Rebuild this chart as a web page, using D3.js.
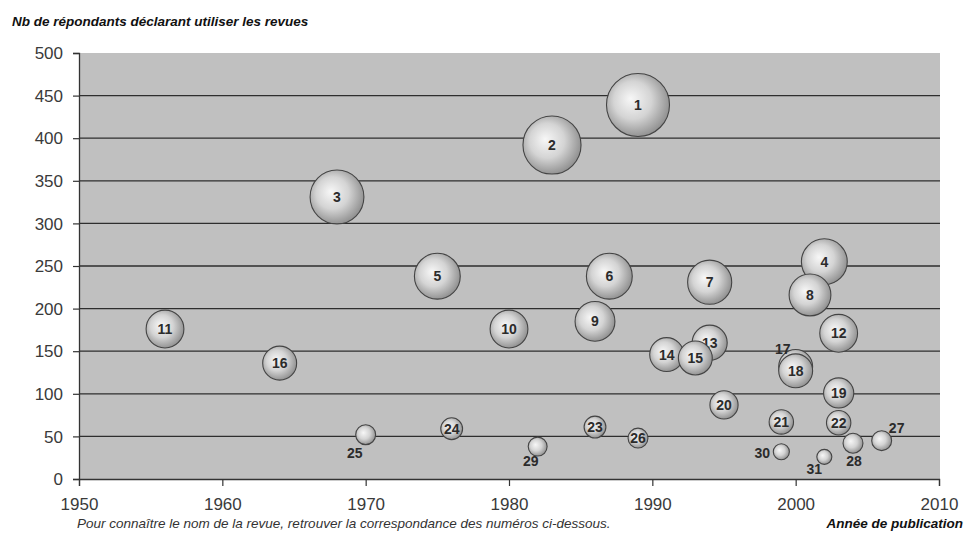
<!DOCTYPE html>
<html>
<head>
<meta charset="utf-8">
<script src="https://cdn.jsdelivr.net/npm/d3@7"></script>
<style>
  body { margin: 0; background: #fff; }
  text { font-family: "Liberation Sans", Arial, sans-serif; }
</style>
</head>
<body>
<svg></svg>
<script>
//DATA: one entry per revue (number = label)
var numbers = [1,2,3,4,5,6,7,8,9,10,11,12,13,14,15,16,17,18,19,20,21,22,23,24,25,26,27,28,29,30,31];
var years   = [1989,1983,1968,2002,1975,1987,1994,2001,1986,1980,1956,2003,1994,1991,1993,1964,2000,2000,2003,1995,1999,2003,1986,1976,1970,1989,2006,2004,1982,1999,2002];
var users   = [439,392,331,255,238,238,231,216,185,176,176,171,160,146,142,136,132,127,101,87,67,66,61,59,52,48,45,42,38,32,26];
var sizes   = [100,85,73,53,53,53,49,44,40,36,36,36,31,29,29,29,29,29,23,20,15,15,12,12,10,10,10,10,9,6.5,5.7];

var yTicks = [0,50,100,150,200,250,300,350,400,450,500];
var xTicks = [1950,1960,1970,1980,1990,2000,2010];

//labels that sit outside their bubble
var labelNudge = {
  17: [-13,-18], 25: [-11,18], 27: [15,-13], 28: [1,18],
  29: [-7,14], 30: [-19,1], 31: [-10,12]
};

//SET UP THE CANVAS
var w = 966;
var h = 537;
var plotL = 79, plotR = 939, plotT = 53, plotB = 479;

var svg = d3.select("svg")
     .attr("width", w)
     .attr("height", h);

var xScale = d3.scaleLinear().domain([1950, 2010]).range([plotL, plotR]);
var yScale = d3.scaleLinear().domain([0, 500]).range([plotB, plotT]);
var rScale = d3.scaleSqrt().domain([0, 100]).range([0, 31.5]);

var defs = svg.append("defs");
var grad = defs.append("radialGradient")
     .attr("id", "ball")
     .attr("cx", "0.45").attr("cy", "0.45").attr("r", "0.6")
     .attr("fx", "0.38").attr("fy", "0.4");
grad.append("stop").attr("offset", "0").attr("stop-color", "#f7f7f7");
grad.append("stop").attr("offset", "0.5").attr("stop-color", "#d4d4d4");
grad.append("stop").attr("offset", "1").attr("stop-color", "#888");

//plot area
svg.append("rect")
     .attr("x", plotL).attr("y", plotT)
     .attr("width", plotR - plotL + 1).attr("height", plotB - plotT)
     .attr("fill", "#c0c0c0");

//gridlines
svg.append("g")
     .selectAll("line")
     .data(yTicks.filter(d => d > 0 && d < 500))
     .enter().append("line")
     .attr("x1", plotL).attr("x2", plotR + 1)
     .attr("y1", d => yScale(d)).attr("y2", d => yScale(d))
     .attr("stroke", "#2e2e2e")
     .attr("stroke-width", 1.3);

//axes
var yAxis = svg.append("g")
     .attr("transform", "translate(" + plotL + ",0)")
     .call(d3.axisLeft(yScale).tickValues(yTicks).tickSize(6).tickPadding(10));
var xAxis = svg.append("g")
     .attr("transform", "translate(0," + plotB + ")")
     .call(d3.axisBottom(xScale).tickValues(xTicks).tickFormat(d3.format("d")).tickSize(7).tickPadding(12));

[yAxis, xAxis].forEach(function (ax) {
  ax.select(".domain").attr("stroke", "#333").attr("stroke-width", 1.3);
  ax.selectAll(".tick line").attr("stroke", "#333").attr("stroke-width", 1.2);
  ax.selectAll(".tick text")
       .attr("fill", "#3a3a3a")
       .style("font-size", "17px")
       .style("font-family", '"Liberation Sans", Arial, sans-serif');
});
yAxis.selectAll(".tick text").attr("dy", "0.34em");

//bubbles
var data = numbers.map(function (n, i) {
  return { n: n, year: years[i], users: users[i], size: sizes[i] };
});

var bubbles = svg.append("g")
     .selectAll("g")
     .data(data)
     .enter().append("g")
     .attr("transform", d => "translate(" + xScale(d.year) + "," + yScale(d.users) + ")");

bubbles.append("circle")
     .attr("r", d => rScale(d.size))
     .attr("fill", "url(#ball)")
     .attr("stroke", "#444")
     .attr("stroke-width", 1.1);

bubbles.append("text")
     .attr("x", d => labelNudge[d.n] ? labelNudge[d.n][0] : 0)
     .attr("y", d => labelNudge[d.n] ? labelNudge[d.n][1] : 0)
     .attr("dy", "0.36em")
     .attr("text-anchor", "middle")
     .attr("fill", "#2b2b2b")
     .style("font-size", "14px")
     .style("font-weight", "bold")
     .text(d => d.n);

//titles
svg.append("text")
     .attr("x", 12).attr("y", 26)
     .style("font-size", "13.5px")
     .style("font-weight", "bold")
     .style("font-style", "italic")
     .attr("fill", "#111")
     .text("Nb de répondants déclarant utiliser les revues");

svg.append("text")
     .attr("x", 963).attr("y", 528)
     .attr("text-anchor", "end")
     .style("font-size", "13.5px")
     .style("font-weight", "bold")
     .style("font-style", "italic")
     .attr("fill", "#111")
     .text("Année de publication");

svg.append("text")
     .attr("x", 77).attr("y", 528)
     .style("font-size", "13.5px")
     .style("font-style", "italic")
     .attr("fill", "#333")
     .text("Pour connaître le nom de la revue, retrouver la correspondance des numéros ci-dessous.");
</script>
</body>
</html>
